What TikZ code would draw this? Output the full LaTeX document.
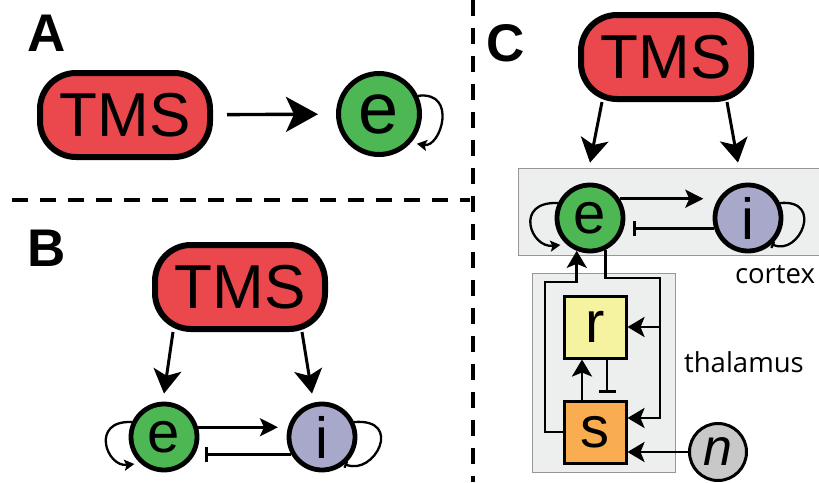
\documentclass[tikz,border=0pt]{standalone}
\usepackage{fontspec}
\setmainfont{Liberation Sans}
\newfontfamily\regionfont{Open Sans}
\usetikzlibrary{arrows.meta, calc, positioning}
\definecolor{tmsred}{RGB}{234,72,77}
\definecolor{egreen}{RGB}{77,183,84}
\definecolor{ilav}{RGB}{168,168,202}
\definecolor{rylw}{RGB}{245,243,160}
\definecolor{sorg}{RGB}{250,172,80}
\definecolor{ngray}{RGB}{200,200,200}
\definecolor{boxfill}{RGB}{237,238,238}
\definecolor{boxedge}{RGB}{150,150,150}
\tikzset{
  tms/.style={draw, line width=6pt, rounded corners=36pt, fill=tmsred, minimum width=170pt, minimum height=84pt, inner sep=0pt, font=\fontsize{62}{62}\selectfont},
  pop/.style={draw, circle, line width=4.8pt, minimum size=66pt, inner sep=0pt, font=\fontsize{58}{58}\selectfont},
  relay/.style={draw, line width=3pt, minimum size=62pt, inner sep=0pt, font=\fontsize{58}{58}\selectfont},
  region/.style={draw=boxedge, fill=boxfill, line width=1pt},
  regionlabel/.style={font=\regionfont\fontsize{27.5}{27.5}\selectfont},
  panel/.style={font=\bfseries\fontsize{53}{53}\selectfont},
  divider/.style={line width=3.5pt, dash pattern=on 16pt off 12pt},
  drive/.style={line width=3pt, -{Stealth[length=24pt,width=28pt,inset=6pt]}},
  exc/.style={line width=2.9pt, -{Stealth[length=18pt,width=18pt,inset=4pt]}},
  inh/.style={line width=2.9pt, -{Bar[width=15pt,line width=2.9pt]}},
  tarr/.style={line width=2.9pt, -{Stealth[length=17pt,width=20pt,inset=4pt]}},
  tinh/.style={line width=2.9pt, -{Bar[width=17pt,line width=2.9pt]}},
  selfexc/.style={line width=2.3pt, shorten >=6pt, -{Stealth[length=10pt,width=11pt,inset=2pt]}},
  selfinh/.style={line width=2.3pt, -{Bar[width=7pt,line width=2.3pt]}},
}
\begin{document}
\begin{tikzpicture}[x=1pt, y=1pt]
\useasboundingbox (0,0) rectangle (819,-482);
\foreach \p/\x/\y in {A/47/-33, B/47/-248, C/506/-43}
  \node[panel] (lab\p) at (\x,\y) {\p};
\draw[divider] (12,-200) -- (470,-200);
\draw[divider] (473,0) -- (473,-482);

\node[tms] (tmsA) at (125,-115) {TMS};
\node[pop, fill=egreen, minimum size=81pt, line width=5pt, font=\fontsize{72}{72}\selectfont] (eA) at (379,-114) {e};
\draw[line width=3.4pt, -{Stealth[length=32pt,width=35pt,inset=8pt]}, shorten <=14pt, shorten >=18pt] (tmsA) -- (eA);
\draw[selfexc] (eA.25) .. controls +(40,5) and +(30,-5) .. (eA.-42);

\node[tms] (tmsB) at (240,-287) {TMS};
\node[pop, fill=egreen] (eB) at (164,-437) {e};
\node[pop, fill=ilav] (iB) at (322,-437) {i};
\draw[drive] ([xshift=-67pt]tmsB.south) -- ([yshift=8pt]eB.north);
\draw[drive] ([xshift=62pt]tmsB.south) -- ([shift={(-10,8)}]iB.north);
\draw[exc, shorten >=10pt] (eB.16) -- (iB.164);
\draw[inh, shorten >=10pt] (iB.210) -- (eB.-30);
\draw[selfexc] (eB.155) .. controls +(-42,2) and +(-34,-4) .. (eB.228);
\draw[selfinh] (iB.25) .. controls +(50,4) and +(30,-12) .. (iB.-50);

\node[region, minimum width=304pt, minimum height=87pt] (cortexbox) at (670,-211.5) {};
\node[region, minimum width=143pt, minimum height=199pt] (thalbox) at (603.5,-372.5) {};
\node[regionlabel] (cortexlab) at (775,-275) {cortex};
\node[regionlabel] (thallab) at (744,-362) {thalamus};
\node[tms] (tmsC) at (666,-57) {TMS};
\node[pop, fill=egreen] (eC) at (590,-218) {e};
\node[pop, fill=ilav] (iC) at (748,-218) {i};
\node[relay, fill=rylw] (r) at (595,-327) {r};
\node[relay, fill=sorg] (s) at (595,-432) {s};
\node[circle, draw, line width=3pt, fill=ngray, minimum size=57pt, inner sep=0pt, font=\itshape\fontsize{52}{52}\selectfont] (n) at (718,-452) {n};
\draw[drive] ([xshift=-64pt]tmsC.south) -- ([yshift=20pt]eC.north);
\draw[drive] ([xshift=61pt]tmsC.south) -- ([shift={(-10,20)}]iC.north);
\draw[exc, shorten >=15pt] (eC.33) -- (iC.147);
\draw[inh, shorten >=9pt] (iC.197) -- (eC.-17);
\draw[selfexc] (eC.155) .. controls +(-44,2) and +(-36,-4) .. (eC.228);
\draw[selfinh] (iC.25) .. controls +(44,4) and +(28,-12) .. (iC.-48);
\coordinate (fbR) at (660,-278);
\coordinate (fbL) at (545,-282);
\draw[tarr] (eC.-64) |- (fbR) |- ([yshift=14pt]s.east);
\draw[tarr] (fbR |- r.east) -- (r.east);
\draw[tarr] (s.west) -| (fbL) -| (eC.-112);
\draw[tarr] ([xshift=-13pt]s.north) -- ([xshift=-13pt]r.south);
\draw[tinh, shorten >=7pt] ([xshift=12pt]r.south) -- ([xshift=12pt]s.north);
\draw[tarr] (n) -- (n -| s.east);
\end{tikzpicture}
\end{document}
